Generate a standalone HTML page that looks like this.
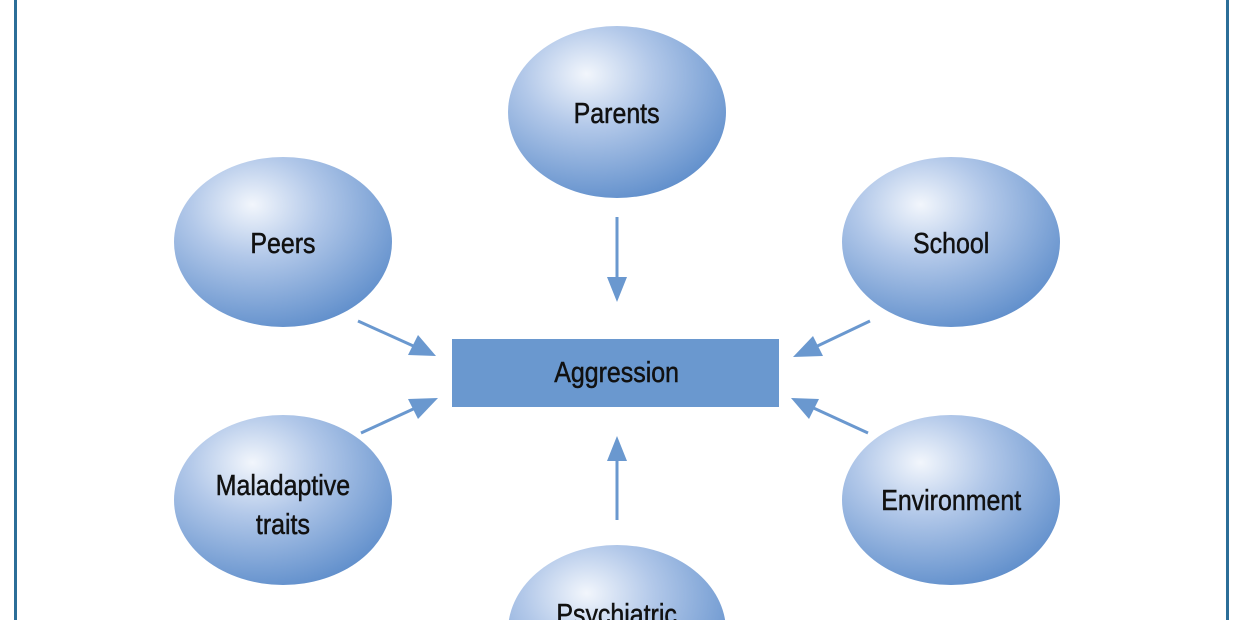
<!DOCTYPE html>
<html><head><meta charset="utf-8"><style>
html,body{margin:0;padding:0;background:#fff;width:1240px;height:620px;overflow:hidden;}
svg{display:block;}
text{font-family:"Liberation Sans",Arial,sans-serif;font-size:29px;fill:#111;text-anchor:middle;stroke:#111;stroke-width:0.5;}
</style></head><body>
<svg width="1240" height="620" viewBox="0 0 1240 620" xmlns="http://www.w3.org/2000/svg">
<defs>
<radialGradient id="g" cx="0.38" cy="0.3" r="0.75" fx="0.36" fy="0.28">
<stop offset="0" stop-color="#f2f6fc"/>
<stop offset="0.4" stop-color="#b2c8e9"/>
<stop offset="1" stop-color="#5f8ecb"/>
</radialGradient>
</defs>
<rect x="0" y="0" width="1240" height="620" fill="#fff"/>
<line x1="15.5" y1="0" x2="15.5" y2="620" stroke="#2b6e98" stroke-width="3"/>
<line x1="1227.5" y1="0" x2="1227.5" y2="620" stroke="#2b6e98" stroke-width="3"/>

<ellipse cx="617" cy="112" rx="109" ry="86" fill="url(#g)"/>
<ellipse cx="283" cy="242" rx="109" ry="85" fill="url(#g)"/>
<ellipse cx="951" cy="242" rx="109" ry="85" fill="url(#g)"/>
<ellipse cx="283" cy="500" rx="109" ry="85" fill="url(#g)"/>
<ellipse cx="951" cy="500" rx="109" ry="85" fill="url(#g)"/>
<ellipse cx="617" cy="631" rx="109" ry="86" fill="url(#g)"/>

<rect x="452" y="339" width="327" height="68" fill="#6a98cf"/>

<g stroke="#6a98cf" stroke-width="3" fill="#6a98cf">
<line x1="617" y1="217" x2="617" y2="285"/>
<polygon points="617,302 607,277 627,277" stroke="none"/>
<line x1="617" y1="520" x2="617" y2="452"/>
<polygon points="617,436 607,461 627,461" stroke="none"/>
<line x1="358" y1="321" x2="420" y2="349"/>
<polygon points="436,356 408,355 418,335" stroke="none"/>
<line x1="361" y1="433" x2="422" y2="405"/>
<polygon points="438,398 418,419 408,399" stroke="none"/>
<line x1="870" y1="321" x2="809" y2="350"/>
<polygon points="793,357 813,336 823,356" stroke="none"/>
<line x1="868" y1="433" x2="807" y2="405"/>
<polygon points="791,398 819,399 809,419" stroke="none"/>
</g>

<g transform="scale(0.86,1)">
<text x="717" y="123">Parents</text>
<text x="329" y="253">Peers</text>
<text x="1106" y="253">School</text>
<text x="329" y="495">Maladaptive</text>
<text x="329" y="534">traits</text>
<text x="1106" y="510">Environment</text>
<text x="717" y="382">Aggression</text>
<text x="717" y="624">Psychiatric</text>
</g>
</svg>
</body></html>
